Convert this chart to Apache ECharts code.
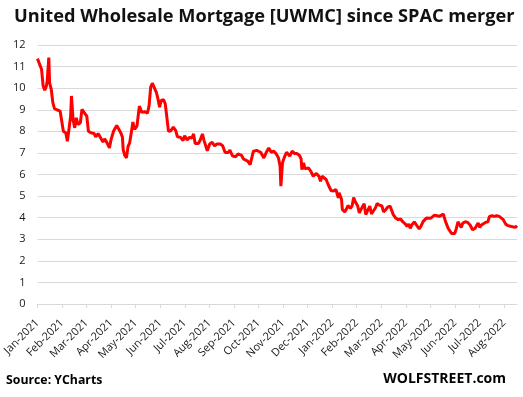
<!DOCTYPE html>
<html>
<head>
<meta charset="utf-8">
<script src="https://cdn.jsdelivr.net/npm/echarts@6/dist/echarts.min.js"></script>
<style>
 html, body { margin: 0; padding: 0; background: #fff; }
 #chart { width: 523px; height: 397px; }
</style>
</head>
<body>
<div id="chart"></div>
<script>
// UWMC share price (approximate)
var dates = [
 '2021-01-22','2021-01-27','2021-01-29','2021-01-31','2021-02-02','2021-02-03','2021-02-05','2021-02-06',
 '2021-02-08','2021-02-10','2021-02-12','2021-02-15','2021-02-19','2021-02-22','2021-02-23','2021-02-26',
 '2021-02-28','2021-03-02','2021-03-04','2021-03-05','2021-03-07','2021-03-09','2021-03-11','2021-03-13',
 '2021-03-16','2021-03-18','2021-03-21','2021-03-24','2021-03-26','2021-03-29','2021-04-02','2021-04-04',
 '2021-04-07','2021-04-10','2021-04-13','2021-04-15','2021-04-17','2021-04-19','2021-04-21','2021-04-23',
 '2021-04-26','2021-04-30','2021-05-02','2021-05-05','2021-05-07','2021-05-08','2021-05-10','2021-05-12',
 '2021-05-14','2021-05-16','2021-05-18','2021-05-20','2021-05-22','2021-05-25','2021-05-28','2021-05-31',
 '2021-06-04','2021-06-07','2021-06-09','2021-06-11','2021-06-13','2021-06-15','2021-06-18','2021-06-20',
 '2021-06-22','2021-06-24','2021-06-27','2021-06-29','2021-07-01','2021-07-03','2021-07-06','2021-07-09',
 '2021-07-12','2021-07-14','2021-07-18','2021-07-21','2021-07-23','2021-07-26','2021-07-29','2021-08-01',
 '2021-08-03','2021-08-05','2021-08-09','2021-08-11','2021-08-14','2021-08-16','2021-08-20','2021-08-23',
 '2021-08-26','2021-08-29','2021-09-01','2021-09-05','2021-09-08','2021-09-11','2021-09-15','2021-09-17',
 '2021-09-20','2021-09-24','2021-09-27','2021-09-29','2021-10-01','2021-10-04','2021-10-06','2021-10-09',
 '2021-10-12','2021-10-14','2021-10-16','2021-10-20','2021-10-22','2021-10-25','2021-10-27','2021-10-29',
 '2021-11-01','2021-11-04','2021-11-07','2021-11-10','2021-11-13','2021-11-16','2021-11-18','2021-11-19',
 '2021-11-21','2021-11-23','2021-11-26','2021-11-30','2021-12-03','2021-12-06','2021-12-09','2021-12-12',
 '2021-12-14','2021-12-15','2021-12-17','2021-12-19','2021-12-23','2021-12-26','2021-12-29','2022-01-02',
 '2022-01-05','2022-01-07','2022-01-09','2022-01-11','2022-01-14','2022-01-17','2022-01-20','2022-01-23',
 '2022-01-26','2022-01-29','2022-01-30','2022-02-02','2022-02-03','2022-02-06','2022-02-08','2022-02-10',
 '2022-02-13','2022-02-15','2022-02-17','2022-02-19','2022-02-22','2022-02-24','2022-02-26','2022-02-28',
 '2022-03-02','2022-03-04','2022-03-06','2022-03-09','2022-03-11','2022-03-13','2022-03-16','2022-03-18',
 '2022-03-21','2022-03-24','2022-03-26','2022-03-29','2022-03-31','2022-04-03','2022-04-05','2022-04-07',
 '2022-04-10','2022-04-13','2022-04-16','2022-04-19','2022-04-22','2022-04-24','2022-04-26','2022-04-28',
 '2022-04-30','2022-05-03','2022-05-05','2022-05-07','2022-05-09','2022-05-11','2022-05-14','2022-05-18',
 '2022-05-20','2022-05-23','2022-05-25','2022-05-28','2022-05-31','2022-06-03','2022-06-05','2022-06-08',
 '2022-06-09','2022-06-11','2022-06-14','2022-06-18','2022-06-22','2022-06-24','2022-06-26','2022-06-28',
 '2022-06-30','2022-07-02','2022-07-05','2022-07-08','2022-07-11','2022-07-14','2022-07-17','2022-07-19',
 '2022-07-21','2022-07-23','2022-07-25','2022-07-27','2022-07-30','2022-08-02','2022-08-04','2022-08-07',
 '2022-08-10','2022-08-13','2022-08-16','2022-08-18','2022-08-21','2022-08-24','2022-08-27','2022-08-31',
 '2022-09-02','2022-09-05','2022-09-07'
];
var prices = [
 11.37,10.88,10.1,9.9,10.1,10.33,11.42,10.25,
 9.95,9.33,9.05,9.0,8.94,8.24,8.0,7.93,
 7.54,7.62,8.7,9.64,8.55,8.16,8.63,8.32,
 8.4,9.02,8.86,8.7,8.0,7.93,7.9,7.74,
 7.9,7.7,7.5,7.65,7.54,7.6,7.23,7.62,
 8.0,8.27,8.24,7.93,7.74,7.15,6.88,6.77,
 7.3,7.47,7.93,8.43,8.09,8.24,9.17,8.88,
 8.91,8.84,9.19,10.05,10.23,10.2,9.81,9.5,
 9.12,9.43,9.46,9.27,8.65,8.0,8.03,8.19,
 8.03,7.75,7.72,7.57,7.8,7.6,7.72,7.69,
 7.88,7.44,7.44,7.57,7.88,7.57,7.1,7.41,
 7.49,7.33,7.41,7.41,7.33,7.02,7.02,7.13,
 6.87,6.82,6.95,7.02,6.9,6.71,6.72,6.62,
 6.46,6.42,7.08,7.12,7.18,7.03,7.12,6.77,
 7.03,7.23,7.03,7.08,6.97,6.77,6.38,5.46,
 6.54,6.77,7.03,6.85,7.08,6.97,6.97,6.88,
 6.72,6.23,6.54,6.26,6.31,6.15,5.92,6.05,
 5.92,5.69,5.92,5.85,5.77,5.49,5.26,5.23,
 5.31,4.92,5.15,4.85,4.38,4.26,4.4,4.56,
 4.43,4.54,4.93,4.74,4.54,4.22,4.38,4.38,
 4.65,4.14,4.3,4.54,4.17,4.22,4.46,4.65,
 4.58,4.54,4.27,4.38,4.49,4.54,4.54,4.14,
 3.98,3.91,3.94,3.8,3.7,3.59,3.7,3.51,
 3.67,3.8,3.75,3.59,3.48,3.59,3.83,3.98,
 3.95,3.97,3.91,4.12,4.09,4.06,4.12,4.17,
 4.02,3.78,3.5,3.27,3.27,3.5,3.81,3.78,
 3.55,3.75,3.81,3.78,3.66,3.44,3.5,3.63,
 3.75,3.55,3.66,3.59,3.78,3.81,4.06,4.09,
 4.06,4.09,4.06,3.97,3.91,3.7,3.63,3.59,
 3.55,3.55,3.63
];
var yTicks = [0, 12, 1]; // min, max, step
var axisStart = '2021-01-22';
var axisEnd = '2022-09-07';
var monthNames = ['Jan','Feb','Mar','Apr','May','Jun','Jul','Aug','Sep','Oct','Nov','Dec'];

var DAY = 86400000;
var t0 = Date.parse(axisStart);
var t1 = Date.parse(axisEnd);
var series = dates.map(function (d, i) { return [Date.parse(d), prices[i]]; });

var chart = echarts.init(document.getElementById('chart'));
chart.setOption({
 animation: false,
 title: [
  {
   text: 'United Wholesale Mortgage [UWMC] since SPAC merger',
   left: 14, top: 8, padding: 0,
   textStyle: { fontFamily: 'Open Sans', fontWeight: 'bold', fontSize: 18.2, color: '#111' }
  },
  {
   text: 'Source: YCharts',
   left: 6, top: 374, padding: 0,
   textStyle: { fontFamily: 'Open Sans', fontWeight: 'bold', fontSize: 12.3, color: '#000' }
  },
  {
   text: 'WOLFSTREET.com',
   right: 17, top: 372, padding: 0,
   textStyle: { fontFamily: 'Open Sans', fontWeight: 'bold', fontSize: 14, color: '#000' }
  }
 ],
 grid: { left: 37, right: 6, top: 45, bottom: 93, containLabel: false },
 xAxis: {
  type: 'value',
  min: t0,
  max: t1,
  interval: 577 / 19 * DAY,
  axisLine: { lineStyle: { color: '#d9d9d9' } },
  axisTick: { show: true, length: 4, lineStyle: { color: '#d9d9d9' } },
  splitLine: { show: false },
  axisLabel: {
   rotate: 45,
   margin: 17,
   fontFamily: 'Open Sans',
   fontSize: 11,
   color: '#1a1a1a',
   showMaxLabel: false,
   formatter: function (v) {
    var d = new Date(v);
    return monthNames[d.getUTCMonth()] + '-' + d.getUTCFullYear();
   }
  }
 },
 yAxis: {
  type: 'value',
  min: yTicks[0], max: yTicks[1], interval: yTicks[2],
  axisLine: { show: false },
  axisTick: { show: false },
  splitLine: { lineStyle: { color: '#d9d9d9' } },
  axisLabel: { fontFamily: 'Open Sans', fontSize: 11, color: '#1a1a1a', margin: 12 }
 },
 series: [{
  type: 'line',
  data: series,
  showSymbol: false,
  lineStyle: { color: '#ff0000', width: 3 },
  itemStyle: { color: '#ff0000' }
 }]
});
</script>
</body>
</html>
